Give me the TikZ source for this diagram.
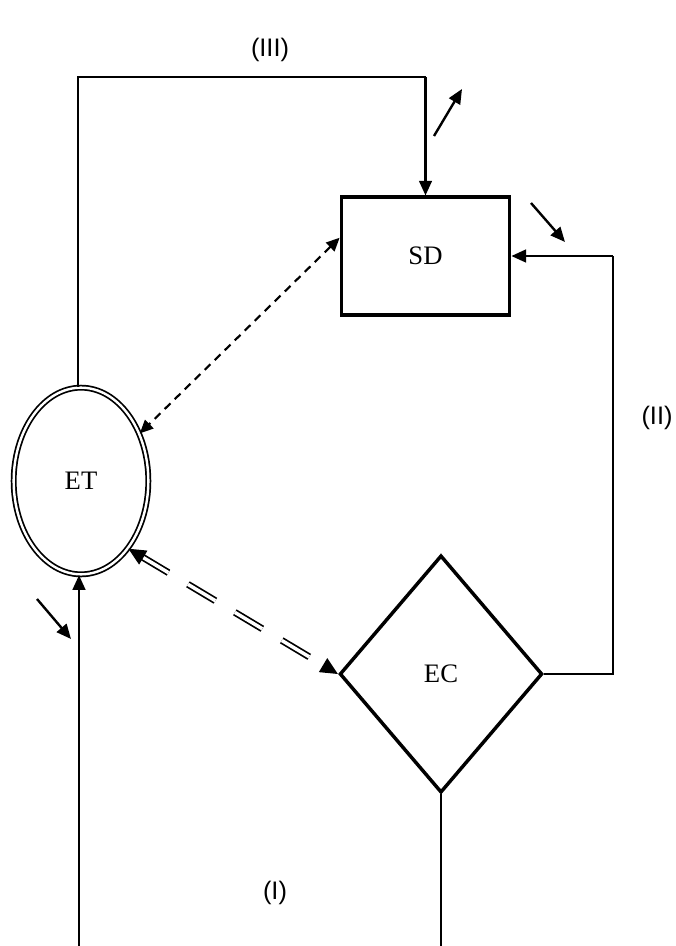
\documentclass[tikz,border=0pt]{standalone}
\usepackage{fontspec}
\setmainfont{Liberation Serif}
\newfontfamily\lblfont{Liberation Sans}
\usepackage{tikz}
\usetikzlibrary{positioning,arrows.meta,shapes.geometric}

\begin{document}
\begin{tikzpicture}[
  x=0.75pt, y=-0.75pt,
  box/.style={draw, line width=2.8pt, minimum width=126pt, minimum height=88pt, inner sep=0pt, font=\fontsize{20}{24}\selectfont},
  oval/.style={ellipse, draw, double, line width=1.3pt, double distance=1.8pt, minimum width=101pt, minimum height=140pt, inner sep=0pt, font=\fontsize{20}{24}\selectfont},
  decision/.style={diamond, draw, line width=2.6pt, minimum width=152pt, minimum height=178pt, inner sep=0pt, font=\fontsize{20}{24}\selectfont},
  link/.style={line width=1.3pt},
  arr/.style={-{Triangle[length=11pt, width=9.5pt]}, line width=1.8pt},
  dotarr/.style={{Triangle[length=10pt, width=9pt]}-{Triangle[length=10pt, width=9pt]}, line width=1.6pt, dash pattern=on 6pt off 4.5pt},
  dblline/.style={double, line width=1.3pt, double distance=2.6pt, dash pattern=on 24pt off 17pt, shorten <=11pt, shorten >=11pt},
  dbltips/.style={{Triangle[length=13pt, width=12pt]}-{Triangle[length=13pt, width=12pt]}, tips=true, line width=1pt},
  lbl/.style={font=\lblfont\fontsize{19}{22}\selectfont}
]
\useasboundingbox (0,0) rectangle (675,946);

% nodes
\node[box] (SD) at (425.5,256) {SD};
\node[oval] (ET) at (81,481) {\raisebox{-9pt}{ET}};
\node[decision] (EC) at (441,674) {\raisebox{-10pt}{EC}};

% labels
\node[lbl] (l3) at (270,50) {(III)};
\node[lbl] (l2) at (657,418) {(II)};
\node[lbl] (l1) at (275,893) {(I)};

% corner and end points
\coordinate (tl) at (78,77);
\coordinate (rt) at (613,256);
\coordinate (bl) at (79,946);
\coordinate (br) at (441,946);

% loops
\draw[link] (ET.north -| tl) -- (tl) -| (SD.north);
\draw[arr] (tl -| SD.north) -- (SD.north);
\draw[link] (EC.east) -| (rt);
\draw[arr] (rt) -- (SD.east);
\draw[arr] (bl) -- (ET.south -| bl);
\draw[link] (EC.south) -- (br);

% links between nodes
\draw[dotarr] (SD.168) -- (ET.39);
\draw[dblline] (ET.-55) -- (EC.west);
\path[dbltips] (ET.-55) -- (EC.west);

% direction marks
\coordinate (m1a) at (434,136);
\coordinate (m1b) at (462,89);
\coordinate (m2a) at (531,203);
\coordinate (m2b) at (565,242);
\coordinate (m3a) at (37,599);
\coordinate (m3b) at (71,639);
\draw[arr] (m1a) -- (m1b);
\draw[arr] (m2a) -- (m2b);
\draw[arr] (m3a) -- (m3b);
\end{tikzpicture}
\end{document}
